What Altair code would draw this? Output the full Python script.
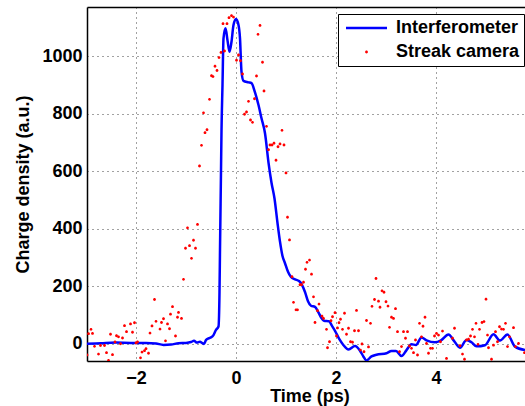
import altair as alt
import pandas as pd

# Interferometer reconstruction (time in ps, charge density a.u.)
interf_t = [-2.98, -2.7, -2.4, -2.1, -1.8, -1.6, -1.45, -1.3, -1.15, -1.0,
            -0.9, -0.84, -0.78, -0.72, -0.68, -0.64, -0.6, -0.55, -0.5, -0.45,
            -0.4, -0.35, -0.33, -0.32, -0.3, -0.29, -0.27, -0.25, -0.21, -0.17,
            -0.13, -0.09, -0.05, 0.0, 0.05, 0.08, 0.11, 0.15, 0.25, 0.31,
            0.38, 0.45, 0.51, 0.58, 0.65, 0.71, 0.77, 0.83, 0.88, 0.93,
            0.98, 1.04, 1.1, 1.18, 1.26, 1.32, 1.38, 1.44, 1.5, 1.58,
            1.64, 1.7, 1.76, 1.86, 1.92, 1.98, 2.07, 2.15, 2.25, 2.38,
            2.48, 2.55, 2.61, 2.71, 2.81, 3.01, 3.11, 3.2, 3.31, 3.41,
            3.51, 3.6, 3.71, 3.81, 3.98, 4.1, 4.25, 4.36, 4.48, 4.61,
            4.71, 4.81, 4.98, 5.15, 5.28, 5.43, 5.58, 5.78]
interf_v = [0, 2, 4, 3, 3, 1, -4, -3, 2, 3,
            6, 10, 4, 7, 3, -1, 13, 19, 22, 30,
            48, 60, 180, 326, 600, 740, 900, 1062, 1097, 1055,
            1015, 1050, 1108, 1129, 1108, 1062, 946, 914, 909, 906,
            874, 830, 784, 732, 630, 560, 505, 420, 355, 305,
            280, 250, 232, 224, 218, 205, 180, 148, 132, 128,
            112, 92, 80, 78, 62, 45, 15, -5, -20, -8,
            -24, -45, -58, -44, -38, -33, -25, -25, -43, -22,
            -2, -4, 22, 12, 5, 12, 32, 10, -14, 13,
            5, -9, -5, 33, 11, 32, -10, -22]

# Streak camera samples (time, value)
streak = [
    (-2.98, -39), (-2.95, 35), (-2.9, 50), (-2.87, 36), (-2.83, -9), (-2.75, -36),
    (-2.71, -6), (-2.63, -6), (-2.59, -31), (-2.55, -58), (-2.51, 33), (-2.47, -38),
    (-2.42, 6), (-2.39, 28), (-2.35, 24), (-2.31, 0), (-2.27, 20), (-2.23, 63),
    (-2.19, 42), (-2.11, 69), (-2.07, 40), (-2.03, 73), (-2.0, 3), (-1.97, 6),
    (-1.91, -49), (-1.88, -29), (-1.83, -24), (-1.8, -17), (-1.75, -33), (-1.72, 37),
    (-1.68, 62), (-1.63, 154), (-1.6, 78), (-1.52, 51), (-1.49, 74), (-1.45, 87),
    (-1.41, 10), (-1.37, 69), (-1.33, 52), (-1.31, 103), (-1.27, 129), (-1.21, 27),
    (-1.17, 92), (-1.15, 109), (-1.09, 88), (-1.05, 224), (-1.01, 332), (-0.97, 403),
    (-0.93, 341), (-0.89, 297), (-0.85, 360), (-0.81, 332), (-0.77, 415), (-0.73, 618),
    (-0.69, 690), (-0.65, 803), (-0.62, 734), (-0.58, 744), (-0.53, 850), (-0.49, 932),
    (-0.46, 929), (-0.42, 965), (-0.38, 950), (-0.34, 995), (-0.3, 1013), (-0.26, 1113),
    (-0.23, 1018), (-0.18, 1113), (-0.14, 1134), (-0.09, 1141), (-0.05, 1136), (0.01, 986),
    (0.05, 1004), (0.09, 984), (0.13, 938), (0.17, 798), (0.21, 806), (0.25, 843),
    (0.29, 778), (0.33, 770), (0.37, 852), (0.41, 931), (0.44, 1076), (0.48, 1107),
    (0.53, 979), (0.56, 879), (0.61, 756), (0.65, 675), (0.68, 691), (0.72, 691),
    (0.76, 697), (0.8, 638), (0.84, 685), (0.88, 695), (0.92, 742), (0.96, 691),
    (1.0, 594), (1.03, 440), (1.07, 361), (1.12, 233), (1.15, 144), (1.2, 118),
    (1.23, 118), (1.28, 205), (1.31, 205), (1.35, 214), (1.39, 259), (1.42, 283),
    (1.47, 291), (1.51, 242), (1.55, 163), (1.58, 74), (1.63, 115), (1.66, 138),
    (1.72, 96), (1.75, 88), (1.81, 50), (1.83, -14), (1.87, 7), (1.9, 80),
    (1.93, 94), (1.98, 108), (2.01, 27), (2.03, 55), (2.06, 73), (2.09, 85),
    (2.13, 50), (2.17, 106), (2.21, 33), (2.25, 54), (2.29, 7), (2.33, 5),
    (2.37, 45), (2.41, 116), (2.45, 45), (2.49, -22), (2.52, -1), (2.56, -28),
    (2.61, 81), (2.65, -11), (2.69, 71), (2.72, 130), (2.77, 154), (2.8, 227),
    (2.85, 148), (2.88, 127), (2.92, 184), (2.96, 179), (3.0, 146), (3.04, 131),
    (3.07, 57), (3.11, 92), (3.15, 88), (3.19, 122), (3.23, 42), (3.27, -28),
    (3.31, -10), (3.35, 42), (3.39, 19), (3.43, 42), (3.47, -8), (3.51, -16),
    (3.55, -31), (3.59, 13), (3.63, -39), (3.67, 71), (3.71, 24), (3.74, 61),
    (3.78, 92), (3.81, 1), (3.85, -33), (3.89, -16), (3.93, -16), (3.97, 27),
    (4.01, 36), (4.05, 30), (4.09, 7), (4.13, 44), (4.21, -51), (4.33, 19),
    (4.37, 54), (4.48, -7), (4.53, -36), (4.57, -54), (4.61, 13), (4.65, 16),
    (4.69, 27), (4.73, 50), (4.77, 24), (4.8, 71), (4.84, -2), (4.87, 50),
    (4.92, 74), (4.96, 77), (5.0, 155), (5.03, 30), (5.05, -14), (5.11, -54),
    (5.15, -5), (5.19, 42), (5.23, 7), (5.27, 59), (5.31, 51), (5.35, 50),
    (5.39, 71), (5.43, -10), (5.47, 24), (5.55, 56), (5.59, -10), (5.65, 1),
    (5.77, -31),
]
streak_t = [p[0] for p in streak]
streak_v = [p[1] for p in streak]

x_ticks = [-2, 0, 2, 4]
y_ticks = [0, 200, 400, 600, 800, 1000]
series_names = ["Interferometer", "Streak camera"]

BLUE = "#0000ff"
RED = "#ff0000"
FONT = "Liberation Sans"

df_i = pd.DataFrame({"t": interf_t, "v": interf_v})
df_s = pd.DataFrame({"t": streak_t, "v": streak_v, "series": "Streak camera"})

xscale = alt.Scale(domain=[-2.98, 5.78], nice=False, zero=False)
yscale = alt.Scale(domain=[-60, 1171], nice=False, zero=False)

line_path = "M-1,-0.06H1V0.06H-1Z"
dot_path = "M0.07,0A0.07,0.07,0,1,1,-0.07,0A0.07,0.07,0,1,1,0.07,0Z"

leg = alt.Legend(
    orient="none", legendX=251, legendY=7, title=None,
    padding=4, strokeColor="black", fillColor="white",
    labelFont=FONT, labelFontSize=18, labelFontWeight="bold", labelColor="black",
    labelLimit=300, symbolSize=1681, clipHeight=20, rowPadding=4,
    symbolOffset=4, labelOffset=9, symbolStrokeWidth=0, symbolOpacity=1,
)

line = alt.Chart(df_i).mark_line(
    color=BLUE, strokeWidth=2.5, interpolate="monotone", clip=True
).encode(
    x=alt.X("t:Q", scale=xscale, axis=alt.Axis(
        values=x_ticks, format="d", title="Time (ps)", grid=True, ticks=False, tickSize=0,
        labelPadding=8, titleX=222.5, titleY=40.5, titleBaseline="alphabetic",
        titleAlign="center")),
    y=alt.Y("v:Q", scale=yscale, axis=alt.Axis(
        values=y_ticks, format="d", title="Charge density (a.u.)", grid=True, ticks=False,
        tickSize=0, labelPadding=5, titleX=-58.5, titleY=177, titleAngle=270,
        titleBaseline="alphabetic", titleAlign="center")),
)

points = alt.Chart(df_s).mark_point(
    filled=True, size=1681, opacity=1, clip=True
).encode(
    x=alt.X("t:Q", scale=xscale, axis=alt.Axis(
        orient="top", labels=False, ticks=False, grid=False, title=None)),
    y=alt.Y("v:Q", scale=yscale),
    color=alt.Color("series:N", scale=alt.Scale(domain=series_names, range=[BLUE, RED]), legend=leg),
    shape=alt.Shape("series:N", scale=alt.Scale(domain=series_names, range=[line_path, dot_path]), legend=leg),
)

chart = alt.layer(line, points).resolve_axis(x="independent").properties(
    width=438, height=354,
    padding={"left": 87, "top": 7, "right": 0, "bottom": 45},
    autosize="none", background="white",
).configure_view(stroke=None).configure_axis(
    labelFont=FONT, labelFontSize=18, labelFontWeight="bold", labelColor="black",
    titleFont=FONT, titleFontSize=18, titleFontWeight="bold", titleColor="black",
    domainColor="black", domainWidth=1.5,
    gridColor="#444444", gridDash=[1, 4], gridWidth=1, gridOpacity=1,
)

chart.save("out.html", embed_options={"renderer": "svg", "actions": False})
